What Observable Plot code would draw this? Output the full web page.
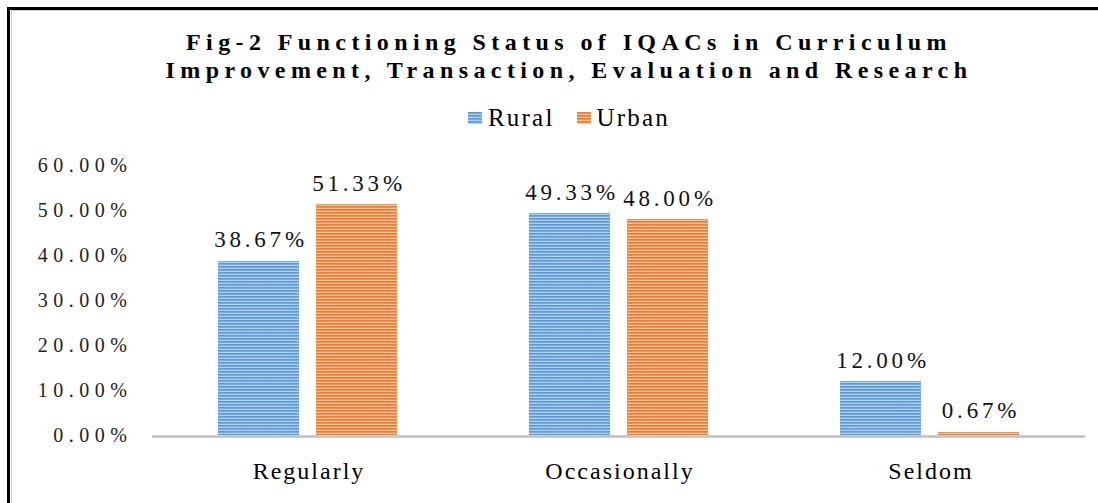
<!DOCTYPE html>
<html>
<head>
<meta charset="utf-8">
<script src="https://cdn.jsdelivr.net/npm/d3@7"></script>
<script src="https://cdn.jsdelivr.net/npm/@observablehq/plot@0.6"></script>
<style>
  html, body { margin: 0; padding: 0; background: #fff; }
  #wrap { position: relative; width: 1098px; height: 503px; overflow: hidden; font-family: "Liberation Serif", "Times New Roman", serif; }
  #frame { position: absolute; left: 7px; top: 7px; width: 2000px; height: 2000px; border-left: 3px solid #000; border-top: 3px solid #000; box-sizing: border-box; pointer-events: none; }
  #frame2 { position: absolute; left: 11px; top: 10px; width: 2000px; height: 2000px; border-left: 1px solid #cfcfcf; border-top: 1px solid #cfcfcf; box-sizing: border-box; pointer-events: none; }
  #header { height: 140px; box-sizing: border-box; padding-top: 28px; padding-left: 40px; text-align: center; }
  #title { font-weight: bold; font-size: 24px; line-height: 28px; letter-spacing: 5.4px; color: #000; }
  #legend { margin-top: 20px; font-size: 25px; line-height: 24px; letter-spacing: 2.2px; color: #000; }
  #legend span.item { display: inline-flex; align-items: center; margin: 0 11px; }
  #legend svg { margin-right: 6px; }
</style>
</head>
<body>
<div id="wrap">
  <div id="header">
    <div id="title">Fig-2 Functioning Status of IQACs in Curriculum<br>Improvement, Transaction, Evaluation and Research</div>
    <div id="legend"></div>
  </div>
  <div id="chart"></div>
  <div id="frame"></div>
  <div id="frame2"></div>
</div>
<script>
const categories = ["Regularly", "Occasionally", "Seldom"];
const series = ["Rural", "Urban"];
const ruralValues = [38.67, 49.33, 12.00];
const urbanValues = [51.33, 48.00, 0.67];
const yTicks = [0, 10, 20, 30, 40, 50, 60];

const colors = {Rural: ["#5b9bd5", "#b4d0ee"], Urban: ["#ed7d31", "#f8c29c"]};
const patternId = {Rural: "pRural", Urban: "pUrban"};

const rows = [];
categories.forEach((c, i) => {
  rows.push({category: c, series: "Rural", value: ruralValues[i]});
  rows.push({category: c, series: "Urban", value: urbanValues[i]});
});

function patternDefs() {
  return series.map(s => `<pattern id="${patternId[s]}" patternUnits="userSpaceOnUse" width="8" height="3">
      <rect width="8" height="3" fill="${colors[s][1]}"/>
      <rect width="8" height="1.7" fill="${colors[s][0]}"/>
    </pattern>`).join("");
}

const fmt = d => d.toFixed(2) + "%";

const plot = Plot.plot({
  width: 1098,
  height: 363,
  marginLeft: 152,
  marginRight: 13,
  marginTop: 25,
  marginBottom: 68,
  style: {fontFamily: "'Liberation Serif', 'Times New Roman', serif", background: "transparent", overflow: "visible"},
  fx: {domain: categories, padding: 0, label: null, axis: "bottom", tickSize: 0, tickPadding: 26},
  x: {domain: series, paddingInner: 0.172, paddingOuter: 0.657, axis: null},
  y: {domain: [0, 60], ticks: yTicks, tickFormat: fmt, label: null, tickSize: 0, tickPadding: 20},
  marks: [
    ...series.map(s => Plot.barY(rows.filter(r => r.series === s), {fx: "category", x: "series", y: "value", fill: `url(#${patternId[s]})`})),
    Plot.ruleY([0], {stroke: "#bfbfbf", strokeWidth: 2.6, dy: 1}),
    Plot.text(rows, {fx: "category", x: "series", y: "value", text: d => fmt(d.value), lineAnchor: "bottom", dy: -14, dx: 2, fontSize: 23, fill: "#111"})
  ]
});

plot.querySelectorAll("g[aria-label='y-axis tick label'] text").forEach(t => {
  t.setAttribute("font-size", 20); t.setAttribute("fill", "#222"); t.setAttribute("letter-spacing", "5.5");
});
plot.querySelectorAll("g[aria-label='fx-axis tick label'] text").forEach(t => {
  t.setAttribute("font-size", 24); t.setAttribute("fill", "#000"); t.setAttribute("letter-spacing", "2"); t.setAttribute("dx", "1");
});
plot.querySelectorAll("g[aria-label='text'] text").forEach(t => t.setAttribute("letter-spacing", "3.8"));

const defs = document.createElementNS("http://www.w3.org/2000/svg", "defs");
defs.innerHTML = patternDefs();
plot.insertBefore(defs, plot.firstChild);
document.getElementById("chart").appendChild(plot);

const legend = document.getElementById("legend");
legend.innerHTML = series.map(s => `<span class="item"><svg width="14" height="12"><rect width="14" height="12" fill="url(#${patternId[s]})"/></svg>${s}</span>`).join("");
</script>
</body>
</html>
